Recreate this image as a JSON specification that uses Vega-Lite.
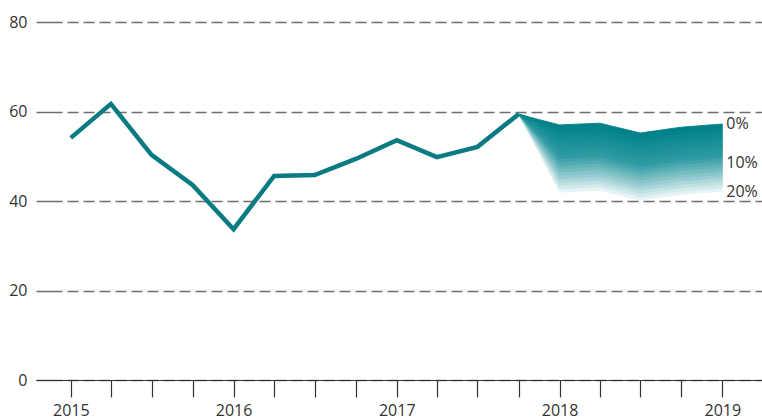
{
  "$schema": "https://vega.github.io/schema/vega-lite/v6.json",
  "width": 726,
  "height": 358,
  "autosize": {"type": "none"},
  "padding": {"left": 36, "top": 22, "right": 0, "bottom": 40},
  "background": "white",
  "config": {
    "view": {"stroke": null},
    "font": "Open Sans",
    "axis": {"labelFont": "Open Sans", "labelFontSize": 16, "labelColor": "#333333", "title": null}
  },
  "datasets": {
    "line": [
      {"d": "2015-01-01", "v": 54.1},
      {"d": "2015-04-01", "v": 61.7},
      {"d": "2015-07-01", "v": 50.3},
      {"d": "2015-10-01", "v": 43.6},
      {"d": "2016-01-01", "v": 33.7},
      {"d": "2016-04-01", "v": 45.6},
      {"d": "2016-07-01", "v": 45.8},
      {"d": "2016-10-01", "v": 49.4},
      {"d": "2017-01-01", "v": 53.6},
      {"d": "2017-04-01", "v": 49.8},
      {"d": "2017-07-01", "v": 52.1},
      {"d": "2017-10-01", "v": 59.4}
    ],
    "fan": [
      {"d": "2017-10-01", "b": 0, "v": 59.4},
      {"d": "2017-10-01", "b": 1, "v": 0}, {"d": "2017-10-01", "b": 2, "v": 0}, {"d": "2017-10-01", "b": 3, "v": 0}, {"d": "2017-10-01", "b": 4, "v": 0}, {"d": "2017-10-01", "b": 5, "v": 0},
      {"d": "2017-10-01", "b": 6, "v": 0}, {"d": "2017-10-01", "b": 7, "v": 0}, {"d": "2017-10-01", "b": 8, "v": 0}, {"d": "2017-10-01", "b": 9, "v": 0}, {"d": "2017-10-01", "b": 10, "v": 0},
      {"d": "2017-10-01", "b": 11, "v": 0}, {"d": "2017-10-01", "b": 12, "v": 0}, {"d": "2017-10-01", "b": 13, "v": 0}, {"d": "2017-10-01", "b": 14, "v": 0}, {"d": "2017-10-01", "b": 15, "v": 0},
      {"d": "2017-10-01", "b": 16, "v": 0}, {"d": "2017-10-01", "b": 17, "v": 0}, {"d": "2017-10-01", "b": 18, "v": 0}, {"d": "2017-10-01", "b": 19, "v": 0}, {"d": "2017-10-01", "b": 20, "v": 0},
      {"d": "2018-01-01", "b": 0, "v": 42.0},
      {"d": "2018-01-01", "b": 1, "v": 0.75}, {"d": "2018-01-01", "b": 2, "v": 0.75}, {"d": "2018-01-01", "b": 3, "v": 0.75}, {"d": "2018-01-01", "b": 4, "v": 0.75}, {"d": "2018-01-01", "b": 5, "v": 0.75},
      {"d": "2018-01-01", "b": 6, "v": 0.75}, {"d": "2018-01-01", "b": 7, "v": 0.75}, {"d": "2018-01-01", "b": 8, "v": 0.75}, {"d": "2018-01-01", "b": 9, "v": 0.75}, {"d": "2018-01-01", "b": 10, "v": 0.75},
      {"d": "2018-01-01", "b": 11, "v": 0.75}, {"d": "2018-01-01", "b": 12, "v": 0.75}, {"d": "2018-01-01", "b": 13, "v": 0.75}, {"d": "2018-01-01", "b": 14, "v": 0.75}, {"d": "2018-01-01", "b": 15, "v": 0.75},
      {"d": "2018-01-01", "b": 16, "v": 0.75}, {"d": "2018-01-01", "b": 17, "v": 0.75}, {"d": "2018-01-01", "b": 18, "v": 0.75}, {"d": "2018-01-01", "b": 19, "v": 0.75}, {"d": "2018-01-01", "b": 20, "v": 0.75},
      {"d": "2018-04-01", "b": 0, "v": 42.4},
      {"d": "2018-04-01", "b": 1, "v": 0.75}, {"d": "2018-04-01", "b": 2, "v": 0.75}, {"d": "2018-04-01", "b": 3, "v": 0.75}, {"d": "2018-04-01", "b": 4, "v": 0.75}, {"d": "2018-04-01", "b": 5, "v": 0.75},
      {"d": "2018-04-01", "b": 6, "v": 0.75}, {"d": "2018-04-01", "b": 7, "v": 0.75}, {"d": "2018-04-01", "b": 8, "v": 0.75}, {"d": "2018-04-01", "b": 9, "v": 0.75}, {"d": "2018-04-01", "b": 10, "v": 0.75},
      {"d": "2018-04-01", "b": 11, "v": 0.75}, {"d": "2018-04-01", "b": 12, "v": 0.75}, {"d": "2018-04-01", "b": 13, "v": 0.75}, {"d": "2018-04-01", "b": 14, "v": 0.75}, {"d": "2018-04-01", "b": 15, "v": 0.75},
      {"d": "2018-04-01", "b": 16, "v": 0.75}, {"d": "2018-04-01", "b": 17, "v": 0.75}, {"d": "2018-04-01", "b": 18, "v": 0.75}, {"d": "2018-04-01", "b": 19, "v": 0.75}, {"d": "2018-04-01", "b": 20, "v": 0.75},
      {"d": "2018-07-01", "b": 0, "v": 40.2},
      {"d": "2018-07-01", "b": 1, "v": 0.75}, {"d": "2018-07-01", "b": 2, "v": 0.75}, {"d": "2018-07-01", "b": 3, "v": 0.75}, {"d": "2018-07-01", "b": 4, "v": 0.75}, {"d": "2018-07-01", "b": 5, "v": 0.75},
      {"d": "2018-07-01", "b": 6, "v": 0.75}, {"d": "2018-07-01", "b": 7, "v": 0.75}, {"d": "2018-07-01", "b": 8, "v": 0.75}, {"d": "2018-07-01", "b": 9, "v": 0.75}, {"d": "2018-07-01", "b": 10, "v": 0.75},
      {"d": "2018-07-01", "b": 11, "v": 0.75}, {"d": "2018-07-01", "b": 12, "v": 0.75}, {"d": "2018-07-01", "b": 13, "v": 0.75}, {"d": "2018-07-01", "b": 14, "v": 0.75}, {"d": "2018-07-01", "b": 15, "v": 0.75},
      {"d": "2018-07-01", "b": 16, "v": 0.75}, {"d": "2018-07-01", "b": 17, "v": 0.75}, {"d": "2018-07-01", "b": 18, "v": 0.75}, {"d": "2018-07-01", "b": 19, "v": 0.75}, {"d": "2018-07-01", "b": 20, "v": 0.75},
      {"d": "2018-10-01", "b": 0, "v": 41.5},
      {"d": "2018-10-01", "b": 1, "v": 0.75}, {"d": "2018-10-01", "b": 2, "v": 0.75}, {"d": "2018-10-01", "b": 3, "v": 0.75}, {"d": "2018-10-01", "b": 4, "v": 0.75}, {"d": "2018-10-01", "b": 5, "v": 0.75},
      {"d": "2018-10-01", "b": 6, "v": 0.75}, {"d": "2018-10-01", "b": 7, "v": 0.75}, {"d": "2018-10-01", "b": 8, "v": 0.75}, {"d": "2018-10-01", "b": 9, "v": 0.75}, {"d": "2018-10-01", "b": 10, "v": 0.75},
      {"d": "2018-10-01", "b": 11, "v": 0.75}, {"d": "2018-10-01", "b": 12, "v": 0.75}, {"d": "2018-10-01", "b": 13, "v": 0.75}, {"d": "2018-10-01", "b": 14, "v": 0.75}, {"d": "2018-10-01", "b": 15, "v": 0.75},
      {"d": "2018-10-01", "b": 16, "v": 0.75}, {"d": "2018-10-01", "b": 17, "v": 0.75}, {"d": "2018-10-01", "b": 18, "v": 0.75}, {"d": "2018-10-01", "b": 19, "v": 0.75}, {"d": "2018-10-01", "b": 20, "v": 0.75},
      {"d": "2019-01-01", "b": 0, "v": 42.2},
      {"d": "2019-01-01", "b": 1, "v": 0.75}, {"d": "2019-01-01", "b": 2, "v": 0.75}, {"d": "2019-01-01", "b": 3, "v": 0.75}, {"d": "2019-01-01", "b": 4, "v": 0.75}, {"d": "2019-01-01", "b": 5, "v": 0.75},
      {"d": "2019-01-01", "b": 6, "v": 0.75}, {"d": "2019-01-01", "b": 7, "v": 0.75}, {"d": "2019-01-01", "b": 8, "v": 0.75}, {"d": "2019-01-01", "b": 9, "v": 0.75}, {"d": "2019-01-01", "b": 10, "v": 0.75},
      {"d": "2019-01-01", "b": 11, "v": 0.75}, {"d": "2019-01-01", "b": 12, "v": 0.75}, {"d": "2019-01-01", "b": 13, "v": 0.75}, {"d": "2019-01-01", "b": 14, "v": 0.75}, {"d": "2019-01-01", "b": 15, "v": 0.75},
      {"d": "2019-01-01", "b": 16, "v": 0.75}, {"d": "2019-01-01", "b": 17, "v": 0.75}, {"d": "2019-01-01", "b": 18, "v": 0.75}, {"d": "2019-01-01", "b": 19, "v": 0.75}, {"d": "2019-01-01", "b": 20, "v": 0.75}
    ],
    "labels": [
      {"d": "2019-01-01", "v": 57.2, "t": "0%"},
      {"d": "2019-01-01", "v": 48.5, "t": "10%"},
      {"d": "2019-01-01", "v": 42.0, "t": "20%"}
    ]
  },
  "encoding": {
    "x": {
      "field": "d",
      "type": "temporal",
      "scale": {"type": "utc", "domain": [{"year": 2014, "month": 10, "date": 15, "utc": true}, {"year": 2019, "month": 3, "date": 31, "utc": true}]},
      "axis": {
        "tickCount": {"interval": "month", "step": 3},
        "labelExpr": "utcFormat(datum.value, '%m') == '01' ? utcFormat(datum.value, '%Y') : ''",
        "grid": false,
        "domainColor": "#333333",
        "domainWidth": 1.2,
        "tickColor": "#333333",
        "tickSize": 17,
        "tickWidth": 1.2,
        "labelPadding": 5,
        "labelOverlap": false,
        "labelFlush": false
      }
    }
  },
  "layer": [
    {
      "data": {"name": "fan"},
      "mark": {"type": "area", "strokeWidth": 0.9, "interpolate": "linear"},
      "encoding": {
        "y": {
          "field": "v",
          "type": "quantitative",
          "stack": "zero",
          "scale": {"domain": [0, 80]},
          "axis": {
            "values": [0, 20, 40, 60, 80],
            "domain": false,
            "ticks": false,
            "labelPadding": 9,
            "grid": true,
            "gridColor": "#6e6e6e",
            "gridWidth": 1.3,
            "gridDash": [26, 5, 11, 5, 11, 5, 11, 5, 11, 5, 11, 5, 11, 5, 11, 5, 11, 5, 11, 5, 11, 5, 11, 5, 11, 5, 11, 5, 11, 5, 11, 5, 11, 5, 11, 5, 11, 5, 11, 5, 11, 5, 11, 5, 11, 5, 11, 5, 11, 5, 11, 5, 11, 5, 11, 5, 11, 5, 11, 5, 11, 5, 11, 5, 11, 5, 11, 5, 11, 5, 11, 5, 11, 5, 11, 5, 11, 5, 11, 5, 11, 5, 11, 5, 11, 5, 11, 5, 11, 5, 11, 5, 11, 5, 11, 5, 11, 5]
          }
        },
        "order": {"field": "b", "type": "quantitative", "sort": "ascending"},
        "detail": {"field": "b", "type": "nominal"},
        "fill": {
          "field": "b",
          "type": "quantitative",
          "scale": {"domain": [1, 6, 11, 20], "range": ["#e6f3f4", "#86c4c8", "#2f9ba2", "#00818a"], "interpolate": "rgb"},
          "legend": null
        },
        "stroke": {
          "field": "b",
          "type": "quantitative",
          "scale": {"domain": [1, 6, 11, 20], "range": ["#e6f3f4", "#86c4c8", "#2f9ba2", "#00818a"], "interpolate": "rgb"},
          "legend": null
        },
        "opacity": {"condition": {"test": "datum.b == 0", "value": 0}, "value": 1}
      }
    },
    {
      "data": {"name": "line"},
      "mark": {"type": "line", "color": "#0b7b83", "strokeWidth": 4.5, "strokeJoin": "miter", "strokeCap": "butt"},
      "encoding": {
        "y": {"field": "v", "type": "quantitative"}
      }
    },
    {
      "data": {"name": "labels"},
      "mark": {"type": "text", "align": "left", "baseline": "middle", "dx": 4, "font": "Open Sans", "fontSize": 16, "color": "#333333"},
      "encoding": {
        "y": {"field": "v", "type": "quantitative"},
        "text": {"field": "t"}
      }
    }
  ]
}
